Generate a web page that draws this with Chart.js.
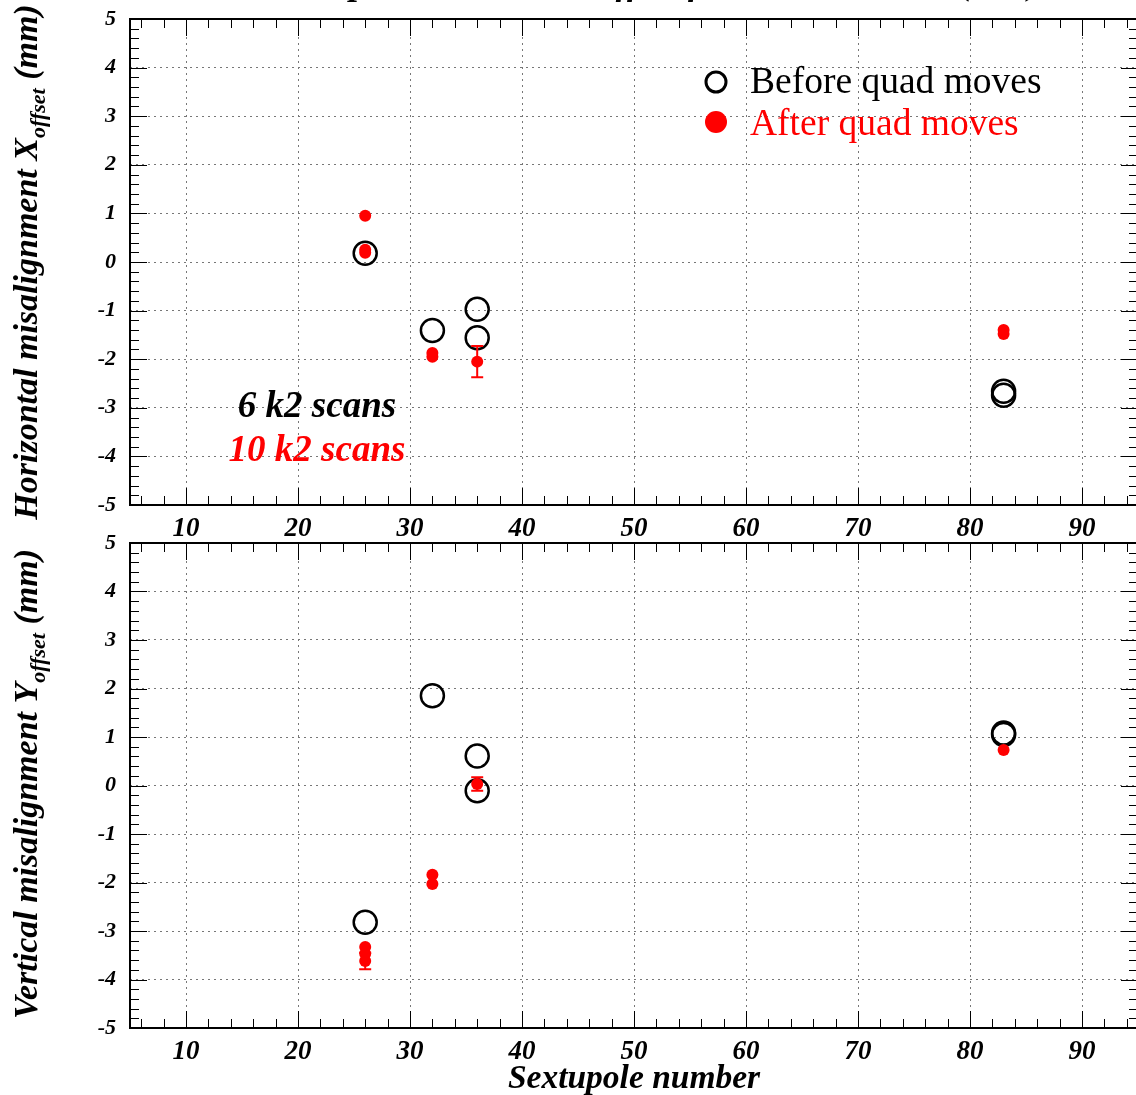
<!DOCTYPE html>
<html>
<head>
<meta charset="utf-8">
<script src="https://cdn.jsdelivr.net/npm/chart.js@4.4.0/dist/chart.umd.min.js"></script>
<style>
  html, body { margin: 0; padding: 0; background: #fff; overflow: hidden; }
  #wrap { position: relative; width: 1136px; height: 1095px; overflow: hidden; }
  canvas { position: absolute; left: 0; }
  #topChart { top: 0; }
  #botChart { top: 515px; }
</style>
</head>
<body>
<div id="wrap">
  <canvas id="topChart" width="1138" height="540"></canvas>
  <canvas id="botChart" width="1138" height="580"></canvas>
</div>
<script>
// tick labels
const xTicks = [10, 20, 30, 40, 50, 60, 70, 80, 90];
const yTicks = [-5, -4, -3, -2, -1, 0, 1, 2, 3, 4, 5];

// horizontal offsets (mm) per sextupole number
const beforeXSext = [26, 32, 36, 36, 83, 83];
const beforeXOff  = [0.18, -1.41, -0.97, -1.56, -2.66, -2.74];
const afterXSext  = [26, 26, 26, 32, 32, 36, 83, 83];
const afterXOff   = [0.95, 0.25, 0.19, -1.87, -1.95, -2.05, -1.40, -1.48];
const afterXErr   = [0, 0, 0, 0, 0, 0.32, 0, 0];

// vertical offsets (mm) per sextupole number
const beforeYSext = [26, 32, 36, 36, 83, 83];
const beforeYOff  = [-2.82, 1.85, 0.61, -0.11, 1.08, 1.05];
const afterYSext  = [26, 26, 26, 32, 32, 36, 83];
const afterYOff   = [-3.33, -3.47, -3.62, -1.84, -2.03, 0.03, 0.73];
const afterYErr   = [0, 0, 0.17, 0, 0, 0.14, 0];

const SERIF = '"Liberation Serif", "Times New Roman", serif';
const toPoints = (xs, ys) => xs.map((v, i) => ({ x: v, y: ys[i] }));

// frame with inward ticks on all four sides (ROOT style)
const framePlugin = {
    id: 'frame',
    beforeDatasetsDraw(chart) {
        const { ctx, chartArea: a, scales: { x, y } } = chart;
        ctx.save();
        ctx.strokeStyle = '#000';
        ctx.lineWidth = 1;
        ctx.beginPath();
        for (let v = 6; v < 95; v += 2) {
            const px = Math.round(x.getPixelForValue(v)) + 0.5;
            const len = v % 10 === 0 ? 17 : 9;
            ctx.moveTo(px, a.bottom); ctx.lineTo(px, a.bottom - len);
            ctx.moveTo(px, a.top); ctx.lineTo(px, a.top + len);
        }
        for (let i = -24; i < 25; i++) {
            const py = Math.round(y.getPixelForValue(i / 5)) + 0.5;
            const len = i % 5 === 0 ? 17 : 9;
            ctx.moveTo(a.left, py); ctx.lineTo(a.left + len, py);
            ctx.moveTo(a.right, py); ctx.lineTo(a.right - len, py);
        }
        ctx.stroke();
        ctx.lineWidth = 2;
        ctx.strokeRect(a.left, a.top, a.right - a.left, a.bottom - a.top);
        ctx.restore();
    },
    afterDatasetsDraw(chart) {
        // error bars for datasets that carry an errors array
        const { ctx, scales: { y } } = chart;
        ctx.save();
        ctx.strokeStyle = 'red';
        ctx.lineWidth = 2;
        chart.data.datasets.forEach((ds, i) => {
            if (!ds.errors) return;
            const meta = chart.getDatasetMeta(i);
            ds.data.forEach((p, j) => {
                const e = ds.errors[j];
                if (!e) return;
                const px = meta.data[j].x;
                const y1 = y.getPixelForValue(p.y + e);
                const y2 = y.getPixelForValue(p.y - e);
                ctx.beginPath();
                ctx.moveTo(px, y1); ctx.lineTo(px, y2);
                ctx.moveTo(px - 6, y1); ctx.lineTo(px + 6, y1);
                ctx.moveTo(px - 6, y2); ctx.lineTo(px + 6, y2);
                ctx.stroke();
            });
        });
        ctx.restore();
    }
};

function drawYTitle(ctx, cy, main, sub, tail) {
    const big = 'italic bold 34px ' + SERIF;
    const small = 'italic bold 22px ' + SERIF;
    ctx.save();
    ctx.font = big;
    const w1 = ctx.measureText(main).width;
    const w3 = ctx.measureText(tail).width;
    ctx.font = small;
    const w2 = ctx.measureText(sub).width;
    const total = w1 + w2 + w3;
    ctx.translate(0, cy);
    ctx.rotate(-Math.PI / 2);
    ctx.fillStyle = '#000';
    ctx.textBaseline = 'alphabetic';
    ctx.textAlign = 'left';
    let pos = -total / 2;
    ctx.font = big;
    ctx.fillText(main, pos, 37);
    pos += w1;
    ctx.font = small;
    ctx.fillText(sub, pos, 45);
    pos += w2;
    ctx.font = big;
    ctx.fillText(tail, pos, 37);
    ctx.restore();
}

const topText = {
    id: 'topText',
    afterDraw(chart) {
        const ctx = chart.ctx;
        ctx.save();
        // title, cut off by the top edge
        ctx.font = 'italic bold 36px ' + SERIF;
        ctx.fillStyle = '#000';
        ctx.textAlign = 'right';
        ctx.textBaseline = 'alphabetic';
        ctx.fillText('Sextupole Horizontal Offset from the k2 scans (mm)', 1040, -6);

        drawYTitle(ctx, 262, 'Horizontal misalignment X', 'offset', ' (mm)');

        // scan counts
        ctx.textAlign = 'center';
        ctx.font = 'italic bold 37px ' + SERIF;
        ctx.fillStyle = '#000';
        ctx.fillText('6 k2 scans', 317, 417);
        ctx.fillStyle = 'red';
        ctx.fillText('10 k2 scans', 317, 461);

        // legend
        ctx.lineWidth = 3;
        ctx.strokeStyle = '#000';
        ctx.beginPath();
        ctx.arc(716, 82, 10, 0, Math.PI * 2);
        ctx.stroke();
        ctx.fillStyle = 'red';
        ctx.beginPath();
        ctx.arc(716, 122, 11, 0, Math.PI * 2);
        ctx.fill();
        ctx.textAlign = 'left';
        ctx.font = '37.5px ' + SERIF;
        ctx.fillStyle = '#000';
        ctx.fillText('Before quad moves', 750, 93);
        ctx.fillStyle = 'red';
        ctx.fillText('After quad moves', 750, 135);
        ctx.restore();
    }
};

const botText = {
    id: 'botText',
    afterDraw(chart) {
        drawYTitle(chart.ctx, 269, 'Vertical misalignment Y', 'offset', ' (mm)');
    }
};

function makeConfig(before, after, errors, padTop, xHeight, withTitle, textPlugin) {
    const xFont = { family: SERIF, size: 27, style: 'italic', weight: 'bold' };
    const yFont = { family: SERIF, size: 22, style: 'italic', weight: 'bold' };
    return {
        type: 'scatter',
        data: {
            datasets: [
                {
                    label: 'After quad moves',
                    data: after,
                    errors: errors,
                    pointRadius: 6,
                    pointBackgroundColor: 'red',
                    pointBorderColor: 'red',
                    pointBorderWidth: 0,
                    order: 0
                },
                {
                    label: 'Before quad moves',
                    data: before,
                    pointRadius: 11.5,
                    pointBackgroundColor: 'rgba(0,0,0,0)',
                    pointBorderColor: '#000',
                    pointBorderWidth: 2.5,
                    order: 1
                }
            ]
        },
        options: {
            responsive: false,
            animation: false,
            events: [],
            layout: { autoPadding: false, padding: { top: padTop, left: 0, right: 0, bottom: 0 } },
            plugins: { legend: { display: false }, tooltip: { enabled: false } },
            scales: {
                x: {
                    type: 'linear',
                    min: 5,
                    max: 95,
                    afterBuildTicks: s => { s.ticks = xTicks.map(v => ({ value: v })); },
                    afterFit: s => { s.height = xHeight; s.paddingLeft = 0; s.paddingRight = 0; },
                    grid: { color: '#777', lineWidth: 1, drawTicks: false },
                    border: { display: false, dash: [2, 4] },
                    ticks: { font: xFont, color: '#000', padding: 8, maxRotation: 0, autoSkip: false },
                    title: {
                        display: withTitle,
                        text: 'Sextupole number',
                        color: '#000',
                        font: { family: SERIF, size: 33.5, style: 'italic', weight: 'bold', lineHeight: 0.95 },
                        padding: 0
                    }
                },
                y: {
                    type: 'linear',
                    min: -5,
                    max: 5,
                    afterBuildTicks: s => { s.ticks = yTicks.map(v => ({ value: v })); },
                    afterFit: s => { s.width = 130; s.paddingTop = 0; s.paddingBottom = 0; },
                    grid: { color: '#777', lineWidth: 1, drawTicks: false },
                    border: { display: false, dash: [2, 4] },
                    ticks: { font: yFont, color: '#000', padding: 14 }
                }
            }
        },
        plugins: [framePlugin, textPlugin]
    };
}

new Chart(document.getElementById('topChart'),
    makeConfig(toPoints(beforeXSext, beforeXOff), toPoints(afterXSext, afterXOff), afterXErr, 19, 35, false, topText));
new Chart(document.getElementById('botChart'),
    makeConfig(toPoints(beforeYSext, beforeYOff), toPoints(afterYSext, afterYOff), afterYErr, 28, 67, true, botText));
</script>
</body>
</html>
